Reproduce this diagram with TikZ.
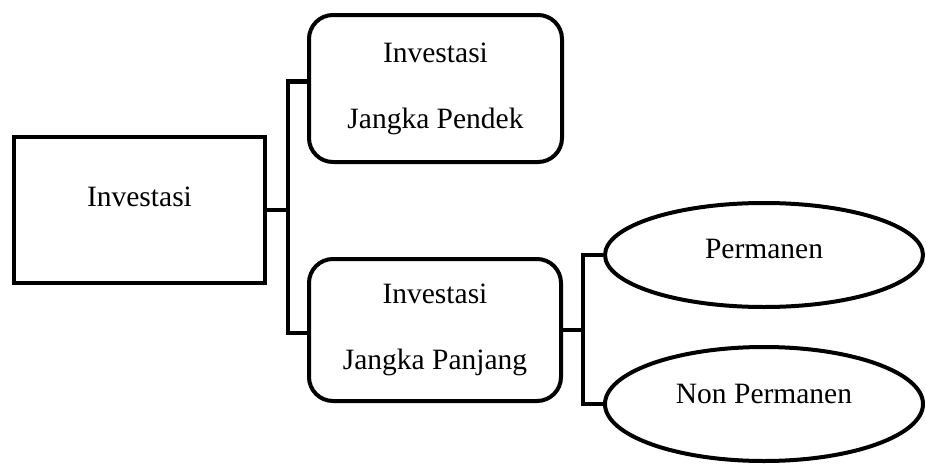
\documentclass[tikz,border=0pt]{standalone}
\usepackage{fontspec}
\setmainfont{Liberation Serif}
\usetikzlibrary{positioning}
\usetikzlibrary{shapes}
\tikzset{
	every node/.style={align=center,font=\fontsize{29.5}{66}\selectfont,inner sep=0pt},
	plainbox/.style={draw,line width=4.5pt,minimum width=251pt,minimum height=146pt},
	roundbox/.style={draw,line width=4pt,rounded corners=24pt},
	oval/.style={draw,ellipse,line width=4pt,minimum width=318pt},
	bracket/.style={line width=4.5pt},
}

\begin{document}
\begin{tikzpicture}[x=1pt,y=-1pt]
	\useasboundingbox (0,0) rectangle (926,463);

	% main box..........................
	\node [plainbox, text depth=26pt] (inv) at (139.5,210) {Investasi};

	% two kinds of investment...........
	\node [roundbox, minimum width=253pt, minimum height=147pt] (pendek) at (435.5,88.5) {Investasi\\Jangka Pendek};
	\node [roundbox, minimum width=252pt, minimum height=142pt] (panjang) at (435,330) {Investasi\\Jangka Panjang};

	% long term split...................
	\node [oval, minimum height=104pt, text depth=13pt] (perm) at (764,255) {Permanen};
	\node [oval, minimum height=114pt, text depth=20pt] (nonperm) at (764,404) {Non Permanen};

	% first bracket.....................
	\coordinate (j1) at (288,210);
	\draw [bracket] (inv) -- (j1);
	\draw [bracket] ([yshift=7pt]pendek.west) -| (j1) |- ([yshift=-3pt]panjang.west);

	% second bracket....................
	\coordinate (j2) at (583,330);
	\draw [bracket] (panjang) -- (j2);
	\draw [bracket] (perm.west) -| (j2) |- (nonperm.west);
\end{tikzpicture}
\end{document}
